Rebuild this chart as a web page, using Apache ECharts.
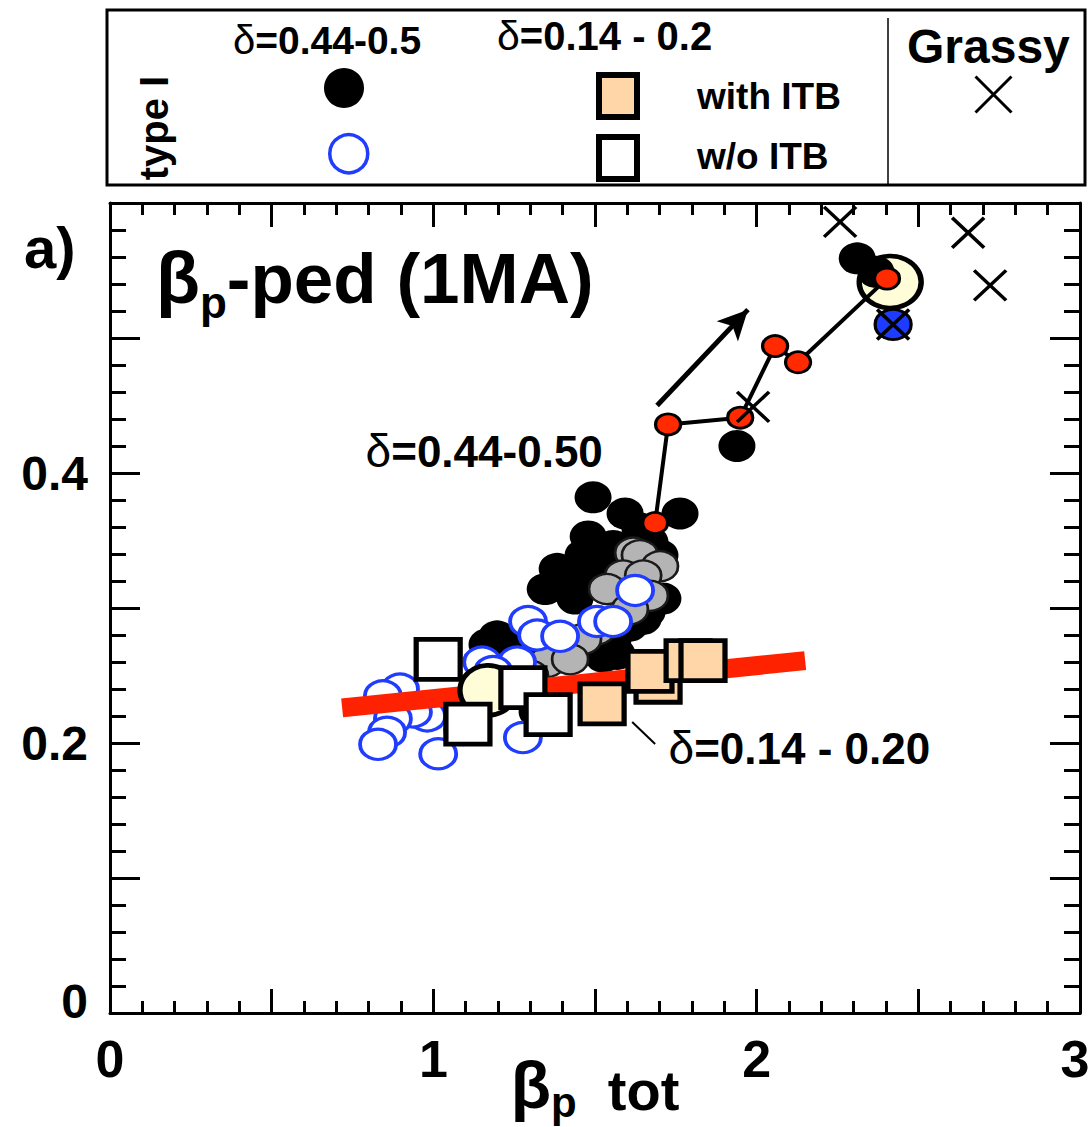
<!DOCTYPE html>
<html>
<head>
<meta charset="utf-8">
<title>beta_p ped vs beta_p tot</title>
<script src="https://cdn.jsdelivr.net/npm/echarts@6/dist/echarts.min.js"></script>
<style>
  html, body { margin: 0; padding: 0; background: #fff; }
  #chart { width: 1092px; height: 1127px; }
</style>
</head>
<body>
<div id="chart"></div>
<script>
// ---- data: pedestal poloidal beta vs total poloidal beta (1 MA) ----
// type I ELMs, delta = 0.44-0.50 (filled black)
const typeIFilled = [
  [1.494, 0.382], [1.593, 0.370], [1.763, 0.370], [1.479, 0.353], [1.383, 0.329],
  [1.463, 0.339], [1.556, 0.346], [1.670, 0.349], [1.701, 0.339], [1.423, 0.319],
  [1.506, 0.321], [1.587, 0.314], [1.661, 0.297], [1.710, 0.307], [1.608, 0.287],
  [1.556, 0.277], [1.525, 0.264], [1.197, 0.279], [1.237, 0.272], [1.166, 0.273],
  [1.290, 0.264], [1.321, 0.223], [1.939, 0.420], [2.311, 0.559], [2.369, 0.549],
  [1.346, 0.314], [1.516, 0.333], [1.639, 0.359], [1.438, 0.307], [1.649, 0.292],
  [1.568, 0.266]
];
// type I ELMs, delta = 0.44-0.50 (grey)
const typeIGrey = [
  [1.618, 0.341], [1.639, 0.339], [1.701, 0.331], [1.587, 0.324], [1.649, 0.324],
  [1.537, 0.314], [1.670, 0.309], [1.608, 0.299], [1.506, 0.284], [1.463, 0.277],
  [1.352, 0.260], [1.423, 0.262], [1.299, 0.250], [1.346, 0.219]
];
// type I ELMs, delta = 0.44-0.50 (open blue)
const typeIOpen = [
  [1.624, 0.313], [1.293, 0.290], [1.321, 0.280], [1.392, 0.279], [1.506, 0.290],
  [1.556, 0.290], [1.151, 0.260], [1.259, 0.260], [1.185, 0.253], [0.897, 0.240],
  [0.844, 0.235], [0.981, 0.220], [0.937, 0.223], [0.875, 0.218], [0.857, 0.208],
  [0.829, 0.199], [1.015, 0.192], [1.277, 0.204], [1.092, 0.210]
];
// delta = 0.14-0.20
const withoutITB = [[1.015, 0.262], [1.107, 0.214], [1.277, 0.241], [1.355, 0.221]];
const withITB = [[1.522, 0.229], [1.695, 0.245], [1.670, 0.253], [1.788, 0.261], [1.834, 0.261]];
// grassy ELMs
const grassy = [[2.258, 0.586], [2.654, 0.578], [2.722, 0.539], [1.989, 0.449], [2.422, 0.510]];
const blueMarked = [[2.422, 0.510]];
// highlighted reference discharges
const ringTop = [[2.413, 0.5415]];
const ringLow = [[1.169, 0.239]];
// power scan trajectory
const scanPath = [[1.686, 0.363], [1.726, 0.436], [1.949, 0.441], [2.057, 0.494], [2.128, 0.482], [2.403, 0.544]];
// low-triangularity trend
const trendLine = [[0.718, 0.226], [2.150, 0.261]];
const arrowFrom = [1.692, 0.450];
const arrowTo = [1.973, 0.521];
// in-plot annotations
const annotationText = ['δ=0.44-0.50', 'δ=0.14 - 0.20'];
const annotationPos = [[0.789, 0.416], [1.726, 0.196]];
const leaderLine = [[1.615, 0.2156], [1.686, 0.1993]];
// axis labels
const xLabelValues = [0, 1, 2, 3];
const yLabelValues = [0, 0.2, 0.4];

const FONT = '"Liberation Sans", Arial, Helvetica, sans-serif';
const CROSS = 'path://M0,0L10,10M10,0L0,10';

const chart = echarts.init(document.getElementById('chart'), null, { renderer: 'svg' });

const near = (v, list) => list.some(t => Math.abs(t - v) < 1e-6);

function frameAxis(extra) {
  return Object.assign({
    type: 'value',
    axisLine: { show: true, onZero: false, lineStyle: { color: '#000', width: 3 } },
    splitLine: { show: false },
    minorSplitLine: { show: false }
  }, extra);
}

const xTicks = { show: true, inside: true, length: 24, lineStyle: { color: '#000', width: 3 } };
const xMinor = { show: true, splitNumber: 5, length: 12, lineStyle: { color: '#000', width: 3 } };
const yTicks = { show: true, inside: true, length: 30, lineStyle: { color: '#000', width: 3 } };
const yMinor = { show: true, splitNumber: 5, length: 16, lineStyle: { color: '#000', width: 3 } };

const scatterBase = { type: 'scatter', silent: true, emphasis: { disabled: true }, xAxisIndex: 0, yAxisIndex: 0 };
const solid = style => Object.assign({ opacity: 1 }, style);
const lastX = xLabelValues[xLabelValues.length - 1];

const option = {
  animation: false,
  backgroundColor: '#fff',
  grid: { left: 110, right: 12, top: 203, bottom: 114, containLabel: false, outerBoundsMode: 'none' },
  xAxis: [
    frameAxis({
      position: 'bottom', min: 0, max: 3, interval: 0.5,
      axisTick: xTicks, minorTick: xMinor,
      axisLabel: {
        show: true, margin: 20, color: '#000', fontFamily: FONT, fontWeight: 'bold', fontSize: 52,
        showMinLabel: true, showMaxLabel: true, hideOverlap: false,
        formatter: v => {
          if (!near(v, xLabelValues)) return '';
          const s = String(Math.round(v));
          return near(v, [lastX]) ? '{e|' + s + '}' : s;
        },
        rich: { e: { fontFamily: FONT, fontWeight: 'bold', fontSize: 52, color: '#000', padding: [0, 10, 0, 0] } }
      },
      name: '{b|β}{s|p}{n|  tot}',
      nameLocation: 'middle',
      nameGap: 44,
      nameMoveOverlap: false,
      nameTextStyle: {
        color: '#000', fontFamily: FONT, fontWeight: 'bold', verticalAlign: 'top',
        rich: {
          b: { fontFamily: FONT, fontWeight: 'bold', fontSize: 66, lineHeight: 66, verticalAlign: 'bottom', padding: [0, 0, 5, 0], color: '#000' },
          s: { fontFamily: FONT, fontWeight: 'bold', fontSize: 42, lineHeight: 42, verticalAlign: 'bottom', color: '#000' },
          n: { fontFamily: FONT, fontWeight: 'bold', fontSize: 56, lineHeight: 56, verticalAlign: 'bottom', padding: [0, 0, 5, 0], color: '#000' }
        }
      }
    }),
    frameAxis({
      position: 'top', min: 0, max: 3, interval: 0.5,
      axisTick: xTicks, minorTick: xMinor,
      axisLabel: { show: false }
    })
  ],
  yAxis: [
    frameAxis({
      position: 'left', min: 0, max: 0.6, interval: 0.1,
      axisTick: yTicks, minorTick: yMinor,
      axisLabel: {
        show: true, margin: 22, color: '#000', fontFamily: FONT, fontWeight: 'bold', fontSize: 48,
        showMinLabel: true, showMaxLabel: true, hideOverlap: false,
        formatter: v => {
          if (!near(v, yLabelValues)) return '';
          const s = String(+v.toFixed(1));
          return v === 0 ? '{z|' + s + '}' : s;
        },
        rich: { z: { fontFamily: FONT, fontWeight: 'bold', fontSize: 48, color: '#000', padding: [0, 0, 24, 0] } }
      }
    }),
    frameAxis({
      position: 'right', min: 0, max: 0.6, interval: 0.1,
      axisTick: yTicks, minorTick: yMinor,
      axisLabel: { show: false }
    })
  ],
  legend: [
    {
      data: ['type I δ=0.44-0.5'], left: 324, top: 68, padding: 0, itemWidth: 40, itemHeight: 40,
      icon: 'circle', selectedMode: false, formatter: () => '',
      itemStyle: solid({ color: '#000', borderWidth: 0 })
    },
    {
      data: ['type I δ=0.44-0.5 open'], left: 328, top: 133, padding: 0, itemWidth: 38, itemHeight: 38,
      icon: 'circle', selectedMode: false, formatter: () => '',
      itemStyle: solid({ color: '#fff', borderColor: '#1f3cff', borderWidth: 3.5 })
    },
    {
      data: ['with ITB'], left: 596, top: 72, padding: 0, itemWidth: 38, itemHeight: 42,
      icon: 'rect', selectedMode: false, formatter: () => '',
      itemStyle: solid({ color: '#ffd6a8', borderColor: '#000', borderWidth: 6 })
    },
    {
      data: ['w/o ITB'], left: 596, top: 134, padding: 0, itemWidth: 38, itemHeight: 42,
      icon: 'rect', selectedMode: false, formatter: () => '',
      itemStyle: solid({ color: '#fff', borderColor: '#000', borderWidth: 6 })
    },
    {
      data: ['Grassy'], left: 974, top: 75, padding: 0, itemWidth: 36, itemHeight: 36,
      icon: CROSS, selectedMode: false, formatter: () => '',
      itemStyle: solid({ color: 'rgba(0,0,0,0)', borderColor: '#000', borderWidth: 3 })
    }
  ],
  graphic: [
    { type: 'rect', silent: true, shape: { x: 107, y: 10, width: 978, height: 175 },
      style: { fill: 'none', stroke: '#000', lineWidth: 3 } },
    { type: 'line', silent: true, shape: { x1: 888, y1: 18, x2: 888, y2: 185 },
      style: { stroke: '#000', lineWidth: 1.5 } },
    { type: 'text', silent: true, x: 233, y: 40,
      style: { text: '{d|δ}{n|=0.44-0.5}', align: 'left', verticalAlign: 'middle',
        rich: { d: { fontFamily: FONT, fontSize: 40, fill: '#000' }, n: { fontFamily: FONT, fontWeight: 'bold', fontSize: 39, fill: '#000' } } } },
    { type: 'text', silent: true, x: 497, y: 36,
      style: { text: '{d|δ}{n|=0.14 - 0.2}', align: 'left', verticalAlign: 'middle',
        rich: { d: { fontFamily: FONT, fontSize: 41, fill: '#000' }, n: { fontFamily: FONT, fontWeight: 'bold', fontSize: 40, fill: '#000' } } } },
    { type: 'text', silent: true, x: 697, y: 96,
      style: { text: 'with ITB', align: 'left', verticalAlign: 'middle', fontFamily: FONT, fontWeight: 'bold', fontSize: 37, fill: '#000' } },
    { type: 'text', silent: true, x: 697, y: 156,
      style: { text: 'w/o ITB', align: 'left', verticalAlign: 'middle', fontFamily: FONT, fontWeight: 'bold', fontSize: 37, fill: '#000' } },
    { type: 'text', silent: true, x: 907, y: 46,
      style: { text: 'Grassy', align: 'left', verticalAlign: 'middle', fontFamily: FONT, fontWeight: 'bold', fontSize: 48, fill: '#000' } },
    { type: 'text', silent: true, x: 154, y: 128, rotation: Math.PI / 2,
      style: { text: 'type I', align: 'center', verticalAlign: 'middle', fontFamily: FONT, fontWeight: 'bold', fontSize: 40, fill: '#000' } },
    { type: 'text', silent: true, x: 24, y: 247,
      style: { text: 'a)', align: 'left', verticalAlign: 'middle', fontFamily: FONT, fontWeight: 'bold', fontSize: 58, fill: '#000' } },
    { type: 'text', silent: true, x: 156, y: 324,
      style: { text: '{b|β}{s|p}{n|-ped (1MA)}', align: 'left', verticalAlign: 'bottom',
        rich: {
          b: { fontFamily: FONT, fontWeight: 'bold', fontSize: 72, lineHeight: 72, verticalAlign: 'bottom', padding: [0, 0, 10, 0], fill: '#000' },
          s: { fontFamily: FONT, fontWeight: 'bold', fontSize: 44, lineHeight: 44, verticalAlign: 'bottom', fill: '#000' },
          n: { fontFamily: FONT, fontWeight: 'bold', fontSize: 71, lineHeight: 71, verticalAlign: 'bottom', padding: [0, 0, 10, 0], fill: '#000' }
        } } }
  ],
  series: [
    Object.assign({}, scatterBase, {
      name: 'reference (high power)', data: ringTop, symbol: 'circle', symbolSize: [62, 52], z: 1,
      itemStyle: solid({ color: '#fffcd8', borderColor: '#000', borderWidth: 5 })
    }),
    Object.assign({}, scatterBase, {
      name: 'type I δ=0.44-0.5', data: typeIFilled, symbol: 'circle', symbolSize: [37, 32], z: 2,
      itemStyle: solid({ color: '#000', borderWidth: 0 })
    }),
    Object.assign({}, scatterBase, {
      name: 'type I δ=0.44-0.5 grey', data: typeIGrey, symbol: 'circle', symbolSize: [36, 30], z: 2,
      itemStyle: solid({ color: '#b4b4b4', borderColor: '#1a1a1a', borderWidth: 2.5 })
    }),
    Object.assign({}, scatterBase, {
      name: 'type I δ=0.44-0.5 open', data: typeIOpen, symbol: 'circle', symbolSize: [36, 30], z: 2,
      itemStyle: solid({ color: '#fff', borderColor: '#1f3cff', borderWidth: 3.5 })
    }),
    {
      type: 'line', name: 'trend δ=0.14-0.20', data: trendLine, silent: true, symbol: 'none', z: 3,
      lineStyle: { color: '#ff2200', width: 19, cap: 'butt', opacity: 1 }, emphasis: { disabled: true }
    },
    {
      type: 'line', name: 'scan', data: scanPath, silent: true, symbol: 'none', z: 3,
      lineStyle: { color: '#000', width: 4, opacity: 1 }, emphasis: { disabled: true }
    },
    Object.assign({}, scatterBase, {
      name: 'reference (low power)', data: ringLow, symbol: 'circle', symbolSize: [56, 50], z: 4,
      itemStyle: solid({ color: '#fffcd8', borderColor: '#000', borderWidth: 5 })
    }),
    Object.assign({}, scatterBase, {
      name: 'w/o ITB', data: withoutITB, symbol: 'rect', symbolSize: [44, 40], z: 5,
      itemStyle: solid({ color: '#fff', borderColor: '#000', borderWidth: 5 })
    }),
    Object.assign({}, scatterBase, {
      name: 'with ITB', data: withITB, symbol: 'rect', symbolSize: [44, 40], z: 5,
      itemStyle: solid({ color: '#ffd6a8', borderColor: '#000', borderWidth: 5 })
    }),
    Object.assign({}, scatterBase, {
      name: 'scan points', data: scanPath, symbol: 'circle', symbolSize: [25, 21], z: 6,
      itemStyle: solid({ color: '#ff2a00', borderColor: '#000', borderWidth: 3 })
    }),
    {
      type: 'line', name: 'direction', data: [], silent: true, z: 6,
      markLine: {
        silent: true, animation: false, symbol: ['none', 'arrow'], symbolSize: [22, 30],
        label: { show: false }, emphasis: { disabled: true },
        lineStyle: { color: '#000', width: 5, type: 'solid', opacity: 1 },
        data: [[{ coord: arrowFrom }, { coord: arrowTo }]]
      }
    },
    Object.assign({}, scatterBase, {
      name: 'blue marked', data: blueMarked, symbol: 'circle', symbolSize: [36, 30], z: 7,
      itemStyle: solid({ color: '#1e3cff', borderColor: '#000', borderWidth: 3 })
    }),
    Object.assign({}, scatterBase, {
      name: 'Grassy', data: grassy, symbol: CROSS, symbolSize: [32, 30], z: 8,
      itemStyle: solid({ color: 'rgba(0,0,0,0)', borderColor: '#000', borderWidth: 3.5 })
    }),
    {
      type: 'line', name: 'leader', data: leaderLine, silent: true, symbol: 'none', z: 8,
      lineStyle: { color: '#000', width: 2, opacity: 1 }, emphasis: { disabled: true }
    },
    Object.assign({}, scatterBase, {
      name: 'annotations', z: 9,
      data: annotationPos.map((p, i) => ({ value: p, name: annotationText[i] })),
      symbol: 'circle', symbolSize: 1, itemStyle: { color: 'rgba(0,0,0,0)', opacity: 1 },
      label: {
        show: true, position: 'right', distance: 0, opacity: 1, color: '#000',
        formatter: p => '{d|' + p.name.charAt(0) + '}{n|' + p.name.slice(1) + '}',
        rich: {
          d: { fontFamily: FONT, fontSize: 46, color: '#000' },
          n: { fontFamily: FONT, fontWeight: 'bold', fontSize: 44, color: '#000' }
        }
      }
    })
  ]
};

chart.setOption(option);
</script>
</body>
</html>
